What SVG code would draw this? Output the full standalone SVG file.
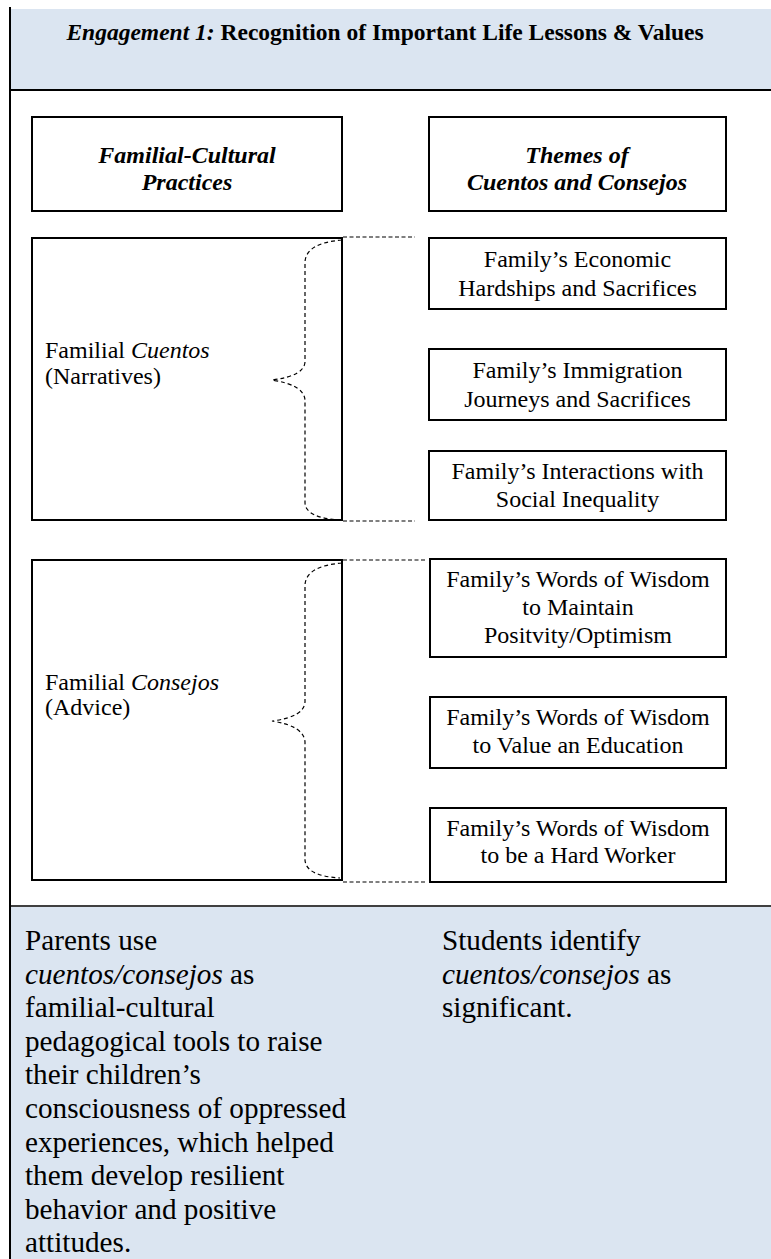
<svg xmlns="http://www.w3.org/2000/svg" width="771" height="1259" viewBox="0 0 771 1259">
<style>
.bx{fill:#fff;stroke:#000;stroke-width:2}
.dash{fill:none;stroke:#000;stroke-width:1.2;stroke-dasharray:4 2.5}
.brace{fill:none;stroke:#000;stroke-width:1.2;stroke-dasharray:4 3}
</style>
<rect x="0" y="0" width="771" height="1259" fill="#fff"/>
<g id="header">
<rect x="11" y="9" width="760" height="80" fill="#dbe5f1"/>
<line x1="10" y1="90" x2="771" y2="90" stroke="#000" stroke-width="2"/>
<text x="385" y="40" text-anchor="middle" font-family="Liberation Serif, serif" font-size="23.5" font-weight="bold"><tspan font-style="italic">Engagement 1:</tspan> Recognition of Important Life Lessons &amp; Values</text>
</g>
<g id="footer" font-family="Liberation Serif, serif" font-size="29.2">
<rect x="11" y="907" width="760" height="352" fill="#dbe5f1"/>
<line x1="10" y1="906" x2="771" y2="906" stroke="#000" stroke-width="1.5"/>
<text x="25" y="950">Parents use</text>
<text x="25" y="983.6"><tspan font-style="italic">cuentos/consejos</tspan> as</text>
<text x="25" y="1017.2">familial-cultural</text>
<text x="25" y="1050.8">pedagogical tools to raise</text>
<text x="25" y="1084.4">their children’s</text>
<text x="25" y="1118">consciousness of oppressed</text>
<text x="25" y="1151.6">experiences, which helped</text>
<text x="25" y="1185.2">them develop resilient</text>
<text x="25" y="1218.8">behavior and positive</text>
<text x="25" y="1252.4">attitudes.</text>
<text x="442" y="950">Students identify</text>
<text x="442" y="983.6"><tspan font-style="italic">cuentos/consejos</tspan> as</text>
<text x="442" y="1017.2">significant.</text>
</g>
<line x1="10" y1="7" x2="10" y2="1259" stroke="#000" stroke-width="2"/>
<g font-family="Liberation Serif, serif" font-size="24">
<g id="practices-head" text-anchor="middle" font-weight="bold" font-style="italic">
<rect class="bx" x="32" y="117" width="310" height="94"/>
<text x="187" y="163">Familial-Cultural</text>
<text x="187" y="190">Practices</text>
</g>
<g id="themes-head" text-anchor="middle" font-weight="bold" font-style="italic">
<rect class="bx" x="429" y="117" width="297" height="94"/>
<text x="577" y="163">Themes of</text>
<text x="577" y="190">Cuentos and Consejos</text>
</g>
<g id="cuentos">
<rect class="bx" x="32" y="238" width="310" height="282"/>
<text x="45" y="358">Familial <tspan font-style="italic">Cuentos</tspan></text>
<text x="45" y="384">(Narratives)</text>
</g>
<g id="consejos">
<rect class="bx" x="32" y="560" width="310" height="320"/>
<text x="45" y="690">Familial <tspan font-style="italic">Consejos</tspan></text>
<text x="45" y="715">(Advice)</text>
</g>
<g id="economic" text-anchor="middle">
<rect class="bx" x="429" y="238" width="297" height="71"/>
<text x="577.5" y="267">Family’s Economic</text>
<text x="577.5" y="296">Hardships and Sacrifices</text>
</g>
<g id="immigration" text-anchor="middle">
<rect class="bx" x="429" y="349" width="297" height="71"/>
<text x="577.5" y="378">Family’s Immigration</text>
<text x="577.5" y="407">Journeys and Sacrifices</text>
</g>
<g id="interactions" text-anchor="middle">
<rect class="bx" x="429" y="451" width="297" height="69"/>
<text x="577.5" y="479">Family’s Interactions with</text>
<text x="577.5" y="507">Social Inequality</text>
</g>
<g id="wisdom-positivity" text-anchor="middle">
<rect class="bx" x="430" y="559" width="296" height="98"/>
<text x="578" y="587">Family’s Words of Wisdom</text>
<text x="578" y="615">to Maintain</text>
<text x="578" y="643">Positvity/Optimism</text>
</g>
<g id="wisdom-education" text-anchor="middle">
<rect class="bx" x="430" y="697" width="296" height="71"/>
<text x="578" y="725">Family’s Words of Wisdom</text>
<text x="578" y="753">to Value an Education</text>
</g>
<g id="wisdom-work" text-anchor="middle">
<rect class="bx" x="430" y="808" width="296" height="74"/>
<text x="578" y="836">Family’s Words of Wisdom</text>
<text x="578" y="863">to be a Hard Worker</text>
</g>
</g>
<g id="connectors">
<line class="dash" x1="343" y1="237" x2="415" y2="237" stroke="#555"/>
<line class="dash" x1="343" y1="521" x2="415" y2="521" stroke="#555"/>
<line class="dash" x1="343" y1="560" x2="425" y2="560"/>
<line class="dash" x1="343" y1="882" x2="425" y2="882"/>
<path class="brace" d="M342,240 Q306,243 305,262 L305,362 Q304,376 272,380 Q304,385 305,400 L305,503 Q306,518 340,520"/>
<path class="brace" d="M342,563 Q306,566 305,585 L305,702 Q304,717 272,721 Q304,726 305,742 L305,860 Q306,876 340,878"/>
</g>
</svg>
